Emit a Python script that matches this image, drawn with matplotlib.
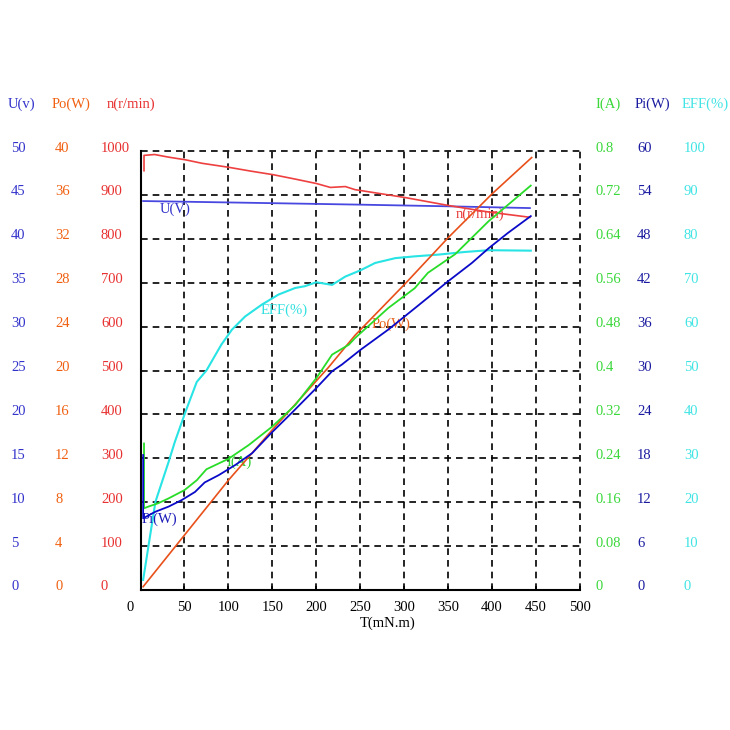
import matplotlib
matplotlib.use("Agg")
import matplotlib.pyplot as plt
import matplotlib.transforms as mtransforms

# torque axis
T_ticks = [0, 50, 100, 150, 200, 250, 300, 350, 400, 450, 500]

# speed n (r/min)
T_n = [4, 4, 16, 32, 51, 70, 100, 126, 151, 176, 200, 216, 233, 244, 301, 350, 396, 443]
n_val = [955, 990, 992, 986, 980, 972, 963, 954, 946, 936, 926, 917, 919, 912, 894, 876, 861, 849]

# voltage U (V)
T_u = [3, 125, 244, 350, 443]
U_val = [44.3, 44.1, 43.9, 43.7, 43.5]

# output power Po (W)
T_po = [3, 50, 100, 150, 214, 244, 301, 350, 400, 445]
Po_val = [0.3, 5.0, 10.0, 14.6, 20.3, 23.2, 27.9, 32.1, 36.1, 39.4]

# current I (A)
T_i = [4, 4, 9, 20, 32, 50, 64, 75, 100, 123, 150, 176, 200, 218, 237, 244, 282, 312, 327, 358, 396, 444]
I_val = [0.267, 0.149, 0.152, 0.158, 0.167, 0.182, 0.200, 0.220, 0.239, 0.264, 0.298, 0.337,
         0.386, 0.429, 0.447, 0.459, 0.514, 0.550, 0.578, 0.612, 0.672, 0.737]

# input power Pi (W)
T_pi = [3, 3, 17, 32, 47, 62, 73, 89, 108, 127, 150, 172, 200, 218, 229, 250, 282, 312, 350, 377, 396, 418, 444]
Pi_val = [18.45, 9.8, 10.7, 11.4, 12.3, 13.4, 14.7, 15.7, 17.1, 18.7, 21.6, 24.2, 27.6, 29.9,
          30.8, 32.8, 35.6, 38.5, 42.2, 44.7, 46.7, 48.8, 51.1]

# efficiency (%)
T_eff = [3, 17, 32, 39, 51, 64, 75, 92, 104, 119, 138, 157, 176, 187, 200, 218, 233, 250,
         267, 290, 312, 339, 369, 396, 444]
EFF_val = [2.3, 20.1, 29.2, 33.7, 40.5, 47.4, 50.0, 55.9, 59.3, 62.3, 65.0, 67.3, 68.8, 69.2,
           70.1, 69.5, 71.4, 72.8, 74.5, 75.6, 76.0, 76.4, 77.0, 77.4, 77.3]

# scale columns
U_ticks = ["0", "5", "10", "15", "20", "25", "30", "35", "40", "45", "50"]
Po_ticks = ["0", "4", "8", "12", "16", "20", "24", "28", "32", "36", "40"]
n_ticks = ["0", "100", "200", "300", "400", "500", "600", "700", "800", "900", "1000"]
I_ticks = ["0", "0.08", "0.16", "0.24", "0.32", "0.4", "0.48", "0.56", "0.64", "0.72", "0.8"]
Pi_ticks = ["0", "6", "12", "18", "24", "30", "36", "42", "48", "54", "60"]
EFF_ticks = ["0", "10", "20", "30", "40", "50", "60", "70", "80", "90", "100"]

plt.rcParams['font.family'] = ['Liberation Serif', 'DejaVu Serif']

W = 730.0
fig = plt.figure(figsize=(7.3, 7.3), dpi=100)


def px(x, y):
    # pixel position (from top-left) -> figure fraction
    return x / W, 1 - y / W


x0, y0, x1, y1 = 140.5, 151.0, 580.0, 590.0
ax = fig.add_axes([x0 / W, 1 - y1 / W, (x1 - x0) / W, (y1 - y0) / W])
ax.set_xlim(0, 500)
ax.set_ylim(0, 100)

# grid
for t in T_ticks[1:]:
    ax.axvline(t, color='black', lw=1.2, ls=(0, (4, 3)), clip_on=False, zorder=1)
for v in range(10, 101, 10):
    ax.axhline(v, color='black', lw=1.2, ls=(0, (4, 3)), clip_on=False, zorder=1)

ax.spines['top'].set_visible(False)
ax.spines['right'].set_visible(False)
ax.spines['left'].set_linewidth(1.5)
ax.spines['bottom'].set_linewidth(1.5)
ax.set_yticks([])
ax.set_xticks(T_ticks)
ax.set_xticklabels([str(t) for t in T_ticks])
ax.tick_params(axis='x', direction='in', length=3, width=1.2, pad=8, labelsize=10.5)
# the "0" label sits a bit left of the axis in the original
lbl0 = ax.xaxis.get_major_ticks()[0].label1
lbl0.set_transform(lbl0.get_transform() + mtransforms.ScaledTranslation(-0.1, 0, fig.dpi_scale_trans))

# one hidden axis per quantity
limits = {'U': 50, 'Po': 40, 'n': 1000, 'I': 0.8, 'Pi': 60, 'EFF': 100}
axes = {}
for key, top in limits.items():
    if key == 'EFF':
        a = ax
    else:
        a = ax.twinx()
        a.set_ylim(0, top)
        a.axis('off')
    axes[key] = a

c_n = '#ee4040'
c_u = '#4848e0'
c_po = '#e8501a'
c_i = '#28dc28'
c_pi = '#0a0ac8'
c_eff = '#28e4e4'

axes['EFF'].plot(T_eff, EFF_val, color=c_eff, lw=1.5, zorder=3)
axes['n'].plot(T_n, n_val, color=c_n, lw=1.2, zorder=3)
axes['U'].plot(T_u, U_val, color=c_u, lw=1.3, zorder=3)
axes['I'].plot(T_i, I_val, color=c_i, lw=1.3, zorder=3)
axes['Pi'].plot(T_pi, Pi_val, color=c_pi, lw=1.3, zorder=3)
axes['Po'].plot(T_po, Po_val, color=c_po, lw=1.2, zorder=3)

# curve labels
fs = 10.5
ax.text(40, 86.8, "U(V)", color='#3333cc', fontsize=fs, ha='center', va='center')
ax.text(164, 63.8, "EFF(%)", color='#30e0e0', fontsize=fs, ha='center', va='center')
ax.text(112, 29.2, "I(A)", color='#30d030', fontsize=fs, ha='center', va='center')
ax.text(22, 16.2, "Pi(W)", color='#1a1ab8', fontsize=fs, ha='center', va='center')
ax.text(285, 60.6, "Po(W)", color='#e8601a', fontsize=fs, ha='center', va='center')
ax.text(386, 85.6, "n(r/min)", color='#e83838', fontsize=fs, ha='center', va='center')

# scale columns at the sides: key, header, labels, value x, header x, colour
columns = [
    ('U', "U(v)", U_ticks, 11, 8, '#3333cc'),
    ('Po', "Po(W)", Po_ticks, 55, 52, '#f06010'),
    ('n', "n(r/min)", n_ticks, 101, 107, '#e83030'),
    ('I', "I(A)", I_ticks, 595, 595, '#3ad83a'),
    ('Pi', "Pi(W)", Pi_ticks, 637, 635, '#1a1aa0'),
    ('EFF', "EFF(%)", EFF_ticks, 684, 682, '#40e4e4'),
]
for key, head, labels, xpos, hxpos, col in columns:
    a = axes[key]
    trans = mtransforms.blended_transform_factory(fig.transFigure, a.transData)
    trans = mtransforms.offset_copy(trans, fig=fig, y=3, units='dots')
    top = limits[key]
    for k, lab in enumerate(labels):
        a.text(xpos / W, top * k / 10, lab, transform=trans, color=col, fontsize=10.5,
               ha='left', va='center', clip_on=False)
    hx, hy = px(hxpos, 104)
    fig.text(hx, hy, head, color=col, fontsize=10.5, ha='left', va='center')

fig.text(*px(388, 623), "T(mN.m)", fontsize=10.5, ha='center', va='center')

fig.savefig("out.png", dpi=100)
